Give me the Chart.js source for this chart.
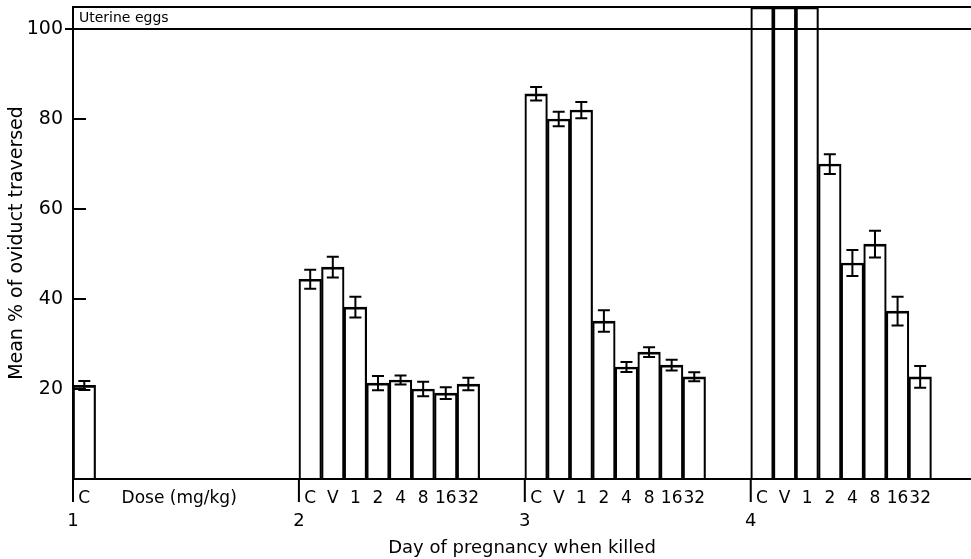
<!DOCTYPE html>
<html>
<head>
<meta charset="utf-8">
<script src="https://cdn.jsdelivr.net/npm/chart.js@4"></script>
<style>
  html, body { margin: 0; padding: 0; background: #fff; }
  #wrap { width: 971px; height: 559px; }
</style>
</head>
<body>
<div id="wrap"><canvas id="chart"></canvas></div>
<script>
const days = [1, 2, 3, 4];
const doseLabels = ['C', 'V', '1', '2', '4', '8', '16', '32'];
const yTicks = [20, 40, 60, 80, 100];
const yTop = 104.9;   // top of the "Uterine eggs" band (100+)
const xMax = 4.975;
const doseNote = 'Dose (mg/kg)';
const doseNoteAt = 1.47;

// mean % and error (+/-) per dose group, one pair of arrays per day
const day1Mean = [20.8];
const day1Err = [1.0];
const day2Mean = [44.4, 47.1, 38.2, 21.3, 22.0, 20.0, 19.1, 21.1];
const day2Err = [2.1, 2.3, 2.3, 1.6, 1.0, 1.6, 1.3, 1.4];
const day3Mean = [85.6, 80.0, 82.0, 35.1, 24.9, 28.2, 25.3, 22.7];
const day3Err = [1.5, 1.6, 1.8, 2.4, 1.1, 1.1, 1.2, 1.0];
// C, V and 1 on day 4: eggs already in the uterus
const day4Mean = [yTop, yTop, yTop, 70.0, 48.0, 52.2, 37.3, 22.7];
const day4Err = [null, null, null, 2.2, 2.9, 3.0, 3.2, 2.4];

const dayMeans = [day1Mean, day2Mean, day3Mean, day4Mean];
const dayErrs = [day1Err, day2Err, day3Err, day4Err];

// each day gets 10 slots, bars start at the day mark
const slot = 0.1;
const points = [];
const errs = [];
const tickText = new Map();
days.forEach((d, di) => {
  dayMeans[di].forEach((v, i) => {
    const x = +(d + slot * (i + 0.5)).toFixed(3);
    points.push({ x: x, y: v });
    errs.push(dayErrs[di][i]);
    tickText.set(x, doseLabels[i]);
  });
});
tickText.set(doseNoteAt, doseNote);

const FONT = 'DejaVu Sans';
Chart.defaults.color = '#000';
Chart.defaults.font.family = FONT;

const extras = {
  id: 'extras',
  afterDatasetsDraw(chart) {
    const ctx = chart.ctx;
    const y = chart.scales.y;
    const meta = chart.getDatasetMeta(0);
    ctx.save();
    ctx.strokeStyle = '#000';
    ctx.lineWidth = 2;
    meta.data.forEach((bar, k) => {
      const e = errs[k];
      if (e == null) return;
      const v = points[k].y;
      const y1 = y.getPixelForValue(v + e);
      const y2 = y.getPixelForValue(v - e);
      ctx.beginPath();
      ctx.moveTo(bar.x, y1); ctx.lineTo(bar.x, y2);
      ctx.moveTo(bar.x - 6, y1); ctx.lineTo(bar.x + 6, y1);
      ctx.moveTo(bar.x - 6, y2); ctx.lineTo(bar.x + 6, y2);
      ctx.stroke();
    });
    ctx.restore();
  },
  afterDraw(chart) {
    const ctx = chart.ctx;
    const area = chart.chartArea;
    const y = chart.scales.y;
    const x2 = chart.scales.x2;
    ctx.save();
    ctx.strokeStyle = '#000';
    ctx.lineWidth = 2;
    // top of uterine band
    const yt = y.getPixelForValue(yTop);
    ctx.beginPath();
    ctx.moveTo(area.left - 1, yt); ctx.lineTo(area.right, yt);
    ctx.stroke();
    // inward ticks
    ctx.beginPath();
    yTicks.filter(t => t < 100).forEach(t => {
      const py = y.getPixelForValue(t);
      ctx.moveTo(area.left, py); ctx.lineTo(area.left + 13, py);
    });
    ctx.stroke();
    // day marks below the baseline
    ctx.beginPath();
    days.forEach(d => {
      const px = x2.getPixelForValue(d);
      ctx.moveTo(px, area.bottom); ctx.lineTo(px, area.bottom + 23);
    });
    ctx.stroke();
    ctx.fillStyle = '#000';
    ctx.font = '14px ' + FONT;
    ctx.textBaseline = 'middle';
    ctx.textAlign = 'left';
    ctx.fillText('Uterine eggs', area.left + 6, y.getPixelForValue((100 + yTop) / 2));
    ctx.restore();
  }
};

new Chart(document.getElementById('chart'), {
  type: 'bar',
  data: {
    datasets: [{
      data: points,
      backgroundColor: 'rgba(0,0,0,0)',
      borderColor: '#000',
      borderWidth: { top: 2, left: 1.5, right: 1.5, bottom: 0 },
      borderSkipped: 'start',
      barPercentage: 1,
      categoryPercentage: 1,
      xAxisID: 'x',
      yAxisID: 'y'
    }]
  },
  options: {
    responsive: true,
    maintainAspectRatio: false,
    animation: false,
    layout: { padding: { top: 7, left: 0, right: 0, bottom: 0 } },
    plugins: { legend: { display: false }, tooltip: { enabled: false } },
    scales: {
      x: {
        type: 'linear',
        position: 'bottom',
        weight: 1,
        min: 1,
        max: xMax,
        offset: false,
        grid: { display: false },
        border: { display: true, color: '#000', width: 2 },
        afterBuildTicks: (scale) => {
          scale.ticks = [...tickText.keys()].map(v => ({ value: v }));
        },
        afterFit: (scale) => {
          scale.height = 30;
          scale.paddingLeft = 0; scale.paddingRight = 0;
        },
        ticks: {
          autoSkip: false,
          maxRotation: 0,
          padding: 1,
          font: { size: 17 },
          callback: (v) => tickText.get(+(+v).toFixed(3)) || ''
        }
      },
      x2: {
        type: 'linear',
        position: 'bottom',
        weight: 2,
        min: 1,
        max: xMax,
        offset: false,
        grid: { display: false },
        border: { display: false },
        afterBuildTicks: (scale) => {
          scale.ticks = days.map(d => ({ value: d }));
        },
        afterFit: (scale) => {
          scale.height = 50;
          scale.paddingLeft = 0; scale.paddingRight = 0;
        },
        ticks: {
          autoSkip: false,
          maxRotation: 0,
          padding: -6,
          font: { size: 18 },
          callback: (v) => String(v)
        },
        title: {
          display: true,
          text: 'Day of pregnancy when killed',
          font: { size: 18 },
          padding: { top: 0, bottom: 0 }
        }
      },
      y: {
        type: 'linear',
        position: 'left',
        min: 0,
        max: yTop,
        grid: {
          drawTicks: true,
          tickLength: 8,
          lineWidth: 2,
          color: (c) => (c.tick && c.tick.value === 100 ? '#000' : 'rgba(0,0,0,0)'),
          tickColor: (c) => (c.tick && c.tick.value === 100 ? '#000' : 'rgba(0,0,0,0)')
        },
        border: { display: true, color: '#000', width: 2 },
        afterBuildTicks: (scale) => {
          scale.ticks = yTicks.map(v => ({ value: v }));
        },
        afterFit: (scale) => {
          scale.width = 73;
          scale.paddingTop = 0; scale.paddingBottom = 0;
        },
        ticks: {
          padding: 2,
          font: { size: 19 }
        },
        title: {
          display: true,
          text: 'Mean % of oviduct traversed',
          font: { size: 19 },
          padding: { top: 6, bottom: 0 }
        }
      }
    }
  },
  plugins: [extras]
});
</script>
</body>
</html>
